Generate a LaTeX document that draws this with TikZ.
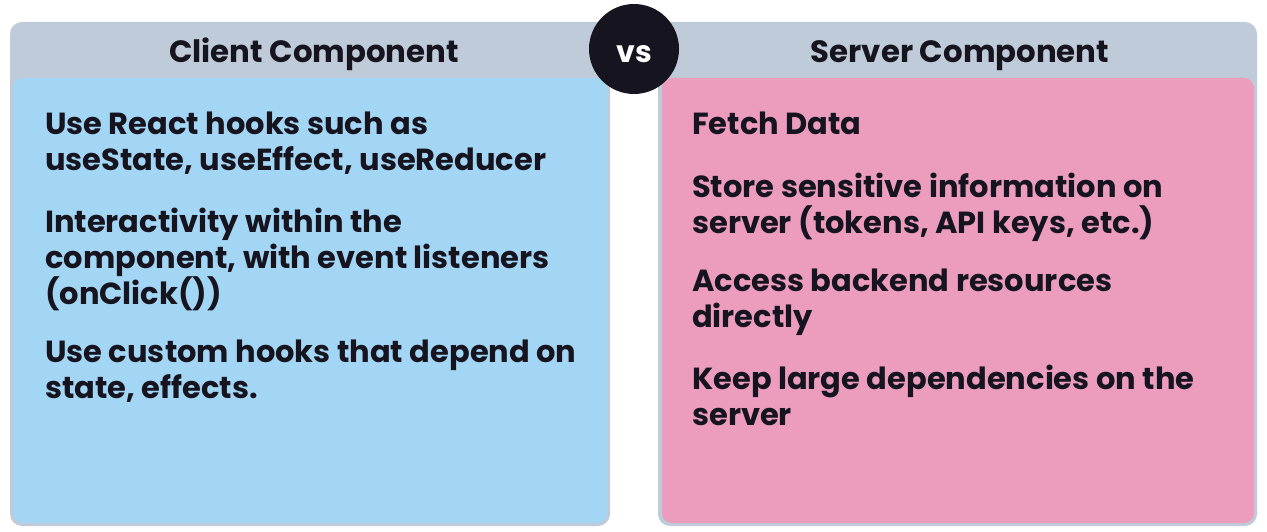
\documentclass[tikz,border=0pt]{standalone}
\usepackage{fontspec}
\setmainfont{Poppins}
\usepackage{tikz}
\usetikzlibrary{positioning}
\definecolor{panelgray}{RGB}{191,203,216}
\definecolor{clientblue}{RGB}{163,214,245}
\definecolor{serverpink}{RGB}{236,157,190}
\definecolor{inkdark}{RGB}{22,20,31}
\tikzstyle{panel} = [rectangle, rounded corners=12pt, fill=panelgray, inner sep=0pt]
\tikzstyle{card} = [rectangle, rounded corners=10pt, inner sep=0pt]
\tikzstyle{heading} = [anchor=base, inner sep=0pt, text=inkdark, font=\fontsize{30.8}{36}\selectfont\bfseries]
\tikzstyle{point} = [anchor=north west, inner sep=0pt, align=left, text=inkdark, font=\fontsize{30.5}{36}\selectfont\bfseries]
\tikzstyle{badge} = [circle, fill=inkdark, minimum size=90pt, inner sep=0pt]

\begin{document}
\begin{tikzpicture}[x=1pt,y=-1pt]
%\draw[help lines] (0,0) grid (1267,532);
\useasboundingbox (0,0) rectangle (1267,532);
\node[panel, minimum width=600pt, minimum height=504pt] (clientpanel) at (310,274) {};
\node[panel, minimum width=599pt, minimum height=504pt] (serverpanel) at (957.5,274) {};
\node[card, fill=clientblue, minimum width=594pt, minimum height=445pt] (clientcard) at (310,300.5) {};
\node[card, fill=serverpink, minimum width=592pt, minimum height=445pt] (servercard) at (958,300.5) {};
\node[heading] (clienthead) at (314,63) {Client Component};
\node[heading] (serverhead) at (960,63) {Server Component};
\node[badge] (vs) at (634,49) {};
\node[anchor=base, inner sep=0pt, text=white, font=\fontsize{30}{36}\selectfont\bfseries] (vstext) at (634,63) {vs};
% client side
\node[point] (c1) at (45,112) {Use React hooks such as\\useState, useEffect, useReducer};
\node[point] (c2) at (45,208) {Interactivity within the\\component, with event listeners\\(onClick())};
\node[point] (c3) at (45,340) {Use custom hooks that depend on\\state, effects.};
% server side
\node[point] (s1) at (692,112) {Fetch Data};
\node[point] (s2) at (692,173) {Store sensitive information on\\server (tokens, API keys, etc.)};
\node[point] (s3) at (692,269) {Access backend resources\\directly};
\node[point] (s4) at (692,365) {Keep large dependencies on the\\server};
\end{tikzpicture}
\end{document}
